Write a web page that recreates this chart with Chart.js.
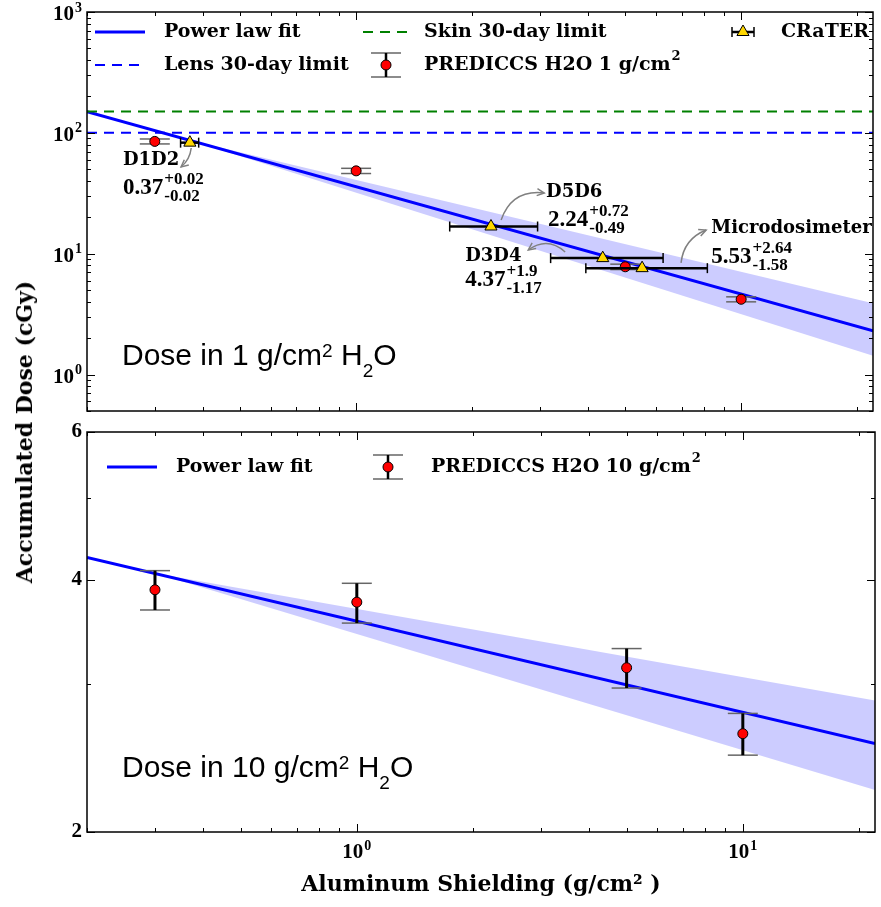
<!DOCTYPE html>
<html><head><meta charset="utf-8">
<script src="https://cdn.jsdelivr.net/npm/chart.js"></script>
<style>
html,body{margin:0;padding:0;background:#fff;}
#wrap{position:relative;width:881px;height:907px;overflow:hidden;background:#fff;}
canvas{position:absolute;left:0;}
#c1{top:0;} #c2{top:420px;}
#ylab{position:absolute;left:24px;top:432px;transform:translate(-50%,-50%) rotate(-90deg);font-family:"DejaVu Serif";font-weight:bold;font-size:22px;white-space:nowrap;color:#000;line-height:1;}
</style></head><body>
<div id="wrap">
<canvas id="c1" width="881" height="420"></canvas>
<canvas id="c2" width="881" height="487"></canvas>
<div id="ylab">Accumulated Dose (cGy)</div>
</div>
<script>
// ---------- data ----------
const prediccsShielding = [0.3, 1, 5, 10];
const prediccs1Dose = [85, 48.5, 7.8, 4.2];
const prediccs1Err = [4, 2.4, 0.4, 0.2];
const prediccs10Dose = [3.89, 3.76, 3.14, 2.62];
const prediccs10ErrLow = [0.21, 0.21, 0.17, 0.15];
const prediccs10ErrHigh = [0.21, 0.20, 0.17, 0.15];

const craterNames = ['D1D2', 'D5D6', 'D3D4', 'Microdosimeter'];
const craterShielding = [0.37, 2.24, 4.37, 5.53];
const craterErrPlus = [0.02, 0.72, 1.9, 2.64];
const craterErrMinus = [0.02, 0.49, 1.17, 1.58];
const craterDose = [83, 16.8, 9.2, 7.6];

const fit1Shielding = [0.2, 22];
const fit1Dose = [150, 2.3];
const band1Shielding = [0.37, 22];
const band1Upper = [87, 3.9];
const band1Lower = [87, 1.43];

const fit10Shielding = [0.2, 22];
const fit10Dose = [4.25, 2.55];
const band10Shielding = [0.3, 22];
const band10Upper = [4.07, 2.87];
const band10Lower = [4.07, 2.245];

const lensLimit = 100;
const skinLimit = 150;

const xRange = [0.2, 22];
const yRange1 = [0.5, 1000];
const yRange10 = [2, 6];
const xTickValues = [1, 10];
const yTickValues1 = [1, 10, 100, 1000];
const yTickValues10 = [2, 4, 6];

// annotation placement (data coordinates) for the CRaTER labels
const craterLabelLayout = [
  {name: [0.248, 59.7], value: [0.248, 35.0], arrow: [[0.373, 75], [0.351, 52.2]], rad: 0.2},
  {name: [3.115, 32.4], value: [3.15, 19.0], arrow: [[2.38, 19.0], [3.08, 31.8]], rad: 0.4},
  {name: [1.92, 9.6], value: [1.92, 6.07], arrow: [[3.49, 10.35], [2.80, 10.75]], rad: -0.4},
  {name: [8.36, 16.3], value: [8.36, 9.41], arrow: [[6.98, 8.39], [8.11, 15.7]], rad: 0.3}
];

// ---------- helpers ----------
const pts = (xs, ys) => xs.map((x, i) => ({x: x, y: ys[i]}));
function line(ctx, x1, y1, x2, y2) { ctx.beginPath(); ctx.moveTo(x1, y1); ctx.lineTo(x2, y2); ctx.stroke(); }
function tri(ctx, x, y, r) {
  ctx.beginPath(); ctx.moveTo(x, y - r); ctx.lineTo(x + r * 0.866, y + r * 0.5); ctx.lineTo(x - r * 0.866, y + r * 0.5); ctx.closePath();
  ctx.fillStyle = '#ffd700'; ctx.fill(); ctx.lineWidth = 1; ctx.strokeStyle = '#000'; ctx.stroke();
}
function dot(ctx, x, y, r) {
  ctx.beginPath(); ctx.arc(x, y, r, 0, Math.PI * 2); ctx.fillStyle = '#ff0000'; ctx.fill();
  ctx.lineWidth = 1; ctx.strokeStyle = '#000'; ctx.stroke();
}
function logTicks(min, max, majors) {
  const out = [];
  for (let d = Math.floor(Math.log10(min)); d <= Math.ceil(Math.log10(max)); d++)
    for (let k = 1; k < 10; k++) {
      const v = +(k * Math.pow(10, d)).toPrecision(6);
      if (v >= min - 1e-9 && v <= max + 1e-9) out.push({v: v, major: majors.includes(v)});
    }
  return out;
}
const SERIF = '"DejaVu Serif", serif';
const NUMF = '"Liberation Serif", "DejaVu Serif", serif';
const BASEF = 'bold 21px ' + NUMF;
const EXPF = 'bold 14px ' + NUMF;

// tick label painter: uses the scale's own tick list and pixel mapping
function tickLabelParts(v, isLog) {
  return isLog ? ['10', String(Math.round(Math.log10(v)))] : [String(v), ''];
}
function drawYLabels(ctx, scale, isLog) {
  ctx.fillStyle = '#000'; ctx.textBaseline = 'middle'; ctx.textAlign = 'left';
  scale.ticks.forEach(t => {
    const p = scale.getPixelForValue(t.value);
    const [b, e] = tickLabelParts(t.value, isLog);
    ctx.font = BASEF; const wb = ctx.measureText(b).width;
    ctx.font = EXPF; const we = e ? ctx.measureText(e).width + 1 : 0;
    const right = scale.right - 5;
    const x0 = right - wb - we;
    ctx.font = BASEF; ctx.fillText(b, x0, p + (e ? 3 : 0));
    if (e) { ctx.font = EXPF; ctx.fillText(e, x0 + wb + 1, p - 4); }
  });
}
function drawXLabels(ctx, scale, isLog) {
  ctx.fillStyle = '#000'; ctx.textBaseline = 'middle'; ctx.textAlign = 'left';
  scale.ticks.forEach(t => {
    const p = scale.getPixelForValue(t.value);
    const [b, e] = tickLabelParts(t.value, isLog);
    ctx.font = BASEF; const wb = ctx.measureText(b).width;
    ctx.font = EXPF; const we = e ? ctx.measureText(e).width + 1 : 0;
    const x0 = p - (wb + we) / 2;
    const yc = scale.top + 21;
    ctx.font = BASEF; ctx.fillText(b, x0, yc);
    if (e) { ctx.font = EXPF; ctx.fillText(e, x0 + wb + 1, yc - 7); }
  });
}

// ---------- plugins ----------
const framePlugin = {
  id: 'frame',
  afterDatasetsDraw(chart, args, opts) {
    const {ctx, chartArea: a, scales: {x, y}} = chart;
    ctx.save(); ctx.strokeStyle = '#000'; ctx.lineWidth = 1;
    logTicks(x.min, x.max, opts.xMajors).forEach(t => {
      const p = Math.round(x.getPixelForValue(t.v)) + 0.5, L = t.major ? 8 : 4;
      line(ctx, p, a.bottom, p, a.bottom - L); line(ctx, p, a.top, p, a.top + L);
    });
    logTicks(y.min, y.max, opts.yMajors).forEach(t => {
      const p = Math.round(y.getPixelForValue(t.v)) + 0.5, L = t.major ? 8 : 4;
      line(ctx, a.left, p, a.left + L, p); line(ctx, a.right, p, a.right - L, p);
    });
    ctx.lineWidth = 1.5; ctx.strokeRect(a.left, a.top, a.right - a.left, a.bottom - a.top);
    drawYLabels(ctx, y, opts.yLog);
    if (opts.xLabels) drawXLabels(ctx, x, true);
    ctx.restore();
  }
};

const errorBarPlugin = {
  id: 'errbars',
  beforeDatasetDraw(chart, args) {
    const ds = chart.data.datasets[args.index];
    const eb = ds.errorBars; if (!eb) return;
    const {ctx, scales: {x, y}} = chart;
    ctx.save(); ctx.lineCap = 'butt';
    ds.data.forEach((p, i) => {
      const px = x.getPixelForValue(p.x), py = y.getPixelForValue(p.y);
      if (eb.yLow) {
        const y1 = y.getPixelForValue(p.y - eb.yLow[i]), y2 = y.getPixelForValue(p.y + eb.yHigh[i]);
        ctx.strokeStyle = eb.capColor; ctx.lineWidth = eb.capWidth;
        line(ctx, px - eb.cap, y1, px + eb.cap, y1); line(ctx, px - eb.cap, y2, px + eb.cap, y2);
        ctx.strokeStyle = eb.color; ctx.lineWidth = eb.width; line(ctx, px, y1, px, y2);
      }
      if (eb.xLow) {
        const x1 = x.getPixelForValue(p.x - eb.xLow[i]), x2 = x.getPixelForValue(p.x + eb.xHigh[i]);
        ctx.strokeStyle = eb.color; ctx.lineWidth = eb.width; line(ctx, x1, py, x2, py);
        ctx.strokeStyle = eb.capColor; ctx.lineWidth = eb.capWidth;
        line(ctx, x1, py - eb.cap, x1, py + eb.cap); line(ctx, x2, py - eb.cap, x2, py + eb.cap);
      }
    });
    ctx.restore();
  }
};

function drawDoseText(ctx, x, baseline, parts) {
  let cx = x;
  ctx.fillStyle = '#000'; ctx.textBaseline = 'alphabetic'; ctx.textAlign = 'left';
  parts.forEach(([t, k]) => {
    const size = k === 'n' ? 30 : 19;
    ctx.font = size + 'px "Liberation Sans", Arial, sans-serif';
    const dy = k === 'sup' ? -8 : (k === 'sub' ? 12 : 0);
    ctx.fillText(t, cx, baseline + dy);
    cx += ctx.measureText(t).width;
  });
}

function legendLine(ctx, x1, x2, y, color, width, dash) {
  ctx.save(); ctx.strokeStyle = color; ctx.lineWidth = width; ctx.setLineDash(dash || []); line(ctx, x1, y, x2, y); ctx.restore();
}
function legendPrediccs(ctx, x, y) {
  ctx.save();
  ctx.strokeStyle = '#666'; ctx.lineWidth = 1.5;
  line(ctx, x - 15, y - 12, x + 15, y - 12); line(ctx, x - 15, y + 12, x + 15, y + 12);
  ctx.strokeStyle = '#000'; ctx.lineWidth = 2.5; line(ctx, x, y - 12, x, y + 12);
  dot(ctx, x, y, 5);
  ctx.restore();
}
function legendText(ctx, t, x, y) {
  ctx.fillStyle = '#000'; ctx.font = 'bold 19px ' + SERIF; ctx.textBaseline = 'middle'; ctx.textAlign = 'left';
  ctx.fillText(t, x, y);
}
function legendTextSq(ctx, t, x, y) {
  legendText(ctx, t, x, y);
  const w = ctx.measureText(t).width;
  ctx.font = 'bold 13px ' + SERIF; ctx.fillText('2', x + w + 1, y - 8);
}

const topDecor = {
  id: 'topDecor',
  afterDraw(chart) {
    const {ctx, chartArea: a, scales: {x, y}} = chart;
    ctx.save();
    // legend
    const r1 = 32, r2 = 65;
    legendLine(ctx, 95, 145, r1, '#0000ff', 3);
    legendText(ctx, 'Power law fit', 164, r1);
    legendLine(ctx, 95, 145, r2, '#0000ff', 2, [10, 7]);
    legendText(ctx, 'Lens 30-day limit', 164, r2);
    legendLine(ctx, 363, 410, r1, '#008000', 2, [10, 7]);
    legendText(ctx, 'Skin 30-day limit', 424, r1);
    legendPrediccs(ctx, 386, r2);
    legendTextSq(ctx, 'PREDICCS H2O 1 g/cm', 424, r2);
    ctx.save(); ctx.strokeStyle = '#000'; ctx.lineWidth = 2.5; line(ctx, 732, r1, 754, r1);
    ctx.lineWidth = 1.5; line(ctx, 732, r1 - 5, 732, r1 + 5); line(ctx, 754, r1 - 5, 754, r1 + 5);
    tri(ctx, 743, r1, 7); ctx.restore();
    legendText(ctx, 'CRaTER', 781, r1);

    // CRaTER annotations
    craterLabelLayout.forEach((L, i) => {
      const nx = x.getPixelForValue(L.name[0]), ny = y.getPixelForValue(L.name[1]);
      ctx.fillStyle = '#000'; ctx.font = 'bold 18px ' + SERIF; ctx.textBaseline = 'middle'; ctx.textAlign = 'left';
      ctx.fillText(craterNames[i], nx, ny);
      const vx = x.getPixelForValue(L.value[0]), vy = y.getPixelForValue(L.value[1]);
      const main = String(craterShielding[i]);
      ctx.font = 'bold 23px ' + NUMF; ctx.fillText(main, vx, vy);
      const w = ctx.measureText(main).width;
      ctx.font = 'bold 17px ' + NUMF;
      ctx.fillText('+' + craterErrPlus[i], vx + w + 1, vy - 8);
      ctx.fillText('-' + craterErrMinus[i], vx + w + 1, vy + 9);
      // arrow
      const x1 = x.getPixelForValue(L.arrow[0][0]), y1 = y.getPixelForValue(L.arrow[0][1]);
      const x2 = x.getPixelForValue(L.arrow[1][0]), y2 = y.getPixelForValue(L.arrow[1][1]);
      const dx = x2 - x1, dy = y2 - y1;
      const cx = (x1 + x2) / 2 + L.rad * dy, cy = (y1 + y2) / 2 - L.rad * dx;
      ctx.strokeStyle = '#808080'; ctx.lineWidth = 1.5;
      ctx.beginPath(); ctx.moveTo(x1, y1); ctx.quadraticCurveTo(cx, cy, x2, y2); ctx.stroke();
      const ang = Math.atan2(y2 - cy, x2 - cx), hl = 8, ha = 0.45;
      ctx.beginPath();
      ctx.moveTo(x2 - hl * Math.cos(ang - ha), y2 - hl * Math.sin(ang - ha));
      ctx.lineTo(x2, y2);
      ctx.lineTo(x2 - hl * Math.cos(ang + ha), y2 - hl * Math.sin(ang + ha));
      ctx.stroke();
    });
    drawDoseText(ctx, a.left + 35, 365, [['Dose in 1 g/cm', 'n'], ['2', 'sup'], [' H', 'n'], ['2', 'sub'], ['O', 'n']]);
    ctx.restore();
  }
};

const bottomDecor = {
  id: 'bottomDecor',
  afterDraw(chart) {
    const {ctx, chartArea: a} = chart;
    ctx.save();
    const r = 47;
    legendLine(ctx, 107, 157, r, '#0000ff', 3);
    legendText(ctx, 'Power law fit', 176, r);
    legendPrediccs(ctx, 388, r);
    legendTextSq(ctx, 'PREDICCS H2O 10 g/cm', 431, r);
    drawDoseText(ctx, a.left + 35, 357, [['Dose in 10 g/cm', 'n'], ['2', 'sup'], [' H', 'n'], ['2', 'sub'], ['O', 'n']]);
    ctx.restore();
  }
};

// ---------- common scale options ----------
function xScale(showAxis) {
  return {
    type: 'logarithmic', min: xRange[0], max: xRange[1], display: showAxis,
    grid: {display: false, drawTicks: false}, border: {display: false},
    afterBuildTicks: s => { s.ticks = xTickValues.map(v => ({value: v})); },
    afterFit: s => { if (showAxis) s.height = 75; },
    ticks: {display: false},
    title: {display: showAxis, text: 'Aluminum Shielding (g/cm² )', color: '#000', font: {family: SERIF, weight: 'bold', size: 22, lineHeight: 1.2}, padding: {top: 0, bottom: 9}}
  };
}
function yScale(range, ticks) {
  return {
    type: 'logarithmic', min: range[0], max: range[1],
    grid: {display: false, drawTicks: false}, border: {display: false},
    afterBuildTicks: s => { s.ticks = ticks.map(v => ({value: v})); },
    afterFit: s => { s.width = 87; },
    ticks: {display: false}
  };
}
const lineDs = (data, color, width, dash, order) => ({data: data, showLine: true, pointRadius: 0, borderColor: color, borderWidth: width, borderDash: dash || [], fill: false, order: order});

// ---------- top chart ----------
new Chart(document.getElementById('c1'), {
  type: 'line',
  data: {datasets: [
    {label: 'band upper', data: pts(band1Shielding, band1Upper), showLine: true, pointRadius: 0, borderColor: 'rgba(0,0,0,0)', backgroundColor: 'rgba(0,0,255,0.2)', fill: '+1', order: 10},
    {label: 'band lower', data: pts(band1Shielding, band1Lower), showLine: true, pointRadius: 0, borderColor: 'rgba(0,0,0,0)', fill: false, order: 11},
    Object.assign({label: 'Power law fit'}, lineDs(pts(fit1Shielding, fit1Dose), '#0000ff', 3, null, 5)),
    Object.assign({label: 'Skin 30-day limit'}, lineDs(pts(xRange, [skinLimit, skinLimit]), '#008000', 2, [10, 7], 4)),
    Object.assign({label: 'Lens 30-day limit'}, lineDs(pts(xRange, [lensLimit, lensLimit]), '#0000ff', 2, [10, 7], 4)),
    {label: 'PREDICCS H2O 1 g/cm2', data: pts(prediccsShielding, prediccs1Dose), showLine: false, pointStyle: 'circle', pointRadius: 5,
      pointBackgroundColor: '#ff0000', pointBorderColor: '#000', pointBorderWidth: 1, order: 2,
      errorBars: {yLow: prediccs1Err, yHigh: prediccs1Err, cap: 15, capColor: '#666', capWidth: 1.5, color: '#000', width: 2}},
    {label: 'CRaTER', data: pts(craterShielding, craterDose), showLine: false, pointStyle: 'triangle', pointRadius: 7,
      pointBackgroundColor: '#ffd700', pointBorderColor: '#000', pointBorderWidth: 1, order: 1,
      errorBars: {xLow: craterErrMinus, xHigh: craterErrPlus, cap: 5, capColor: '#000', capWidth: 1.5, color: '#000', width: 2.5}}
  ]},
  options: {
    responsive: false, animation: false, maintainAspectRatio: false,
    layout: {padding: {top: 12, right: 4, left: 0, bottom: 9}},
    plugins: {legend: {display: false}, tooltip: {enabled: false}, frame: {xMajors: xTickValues, yMajors: yTickValues1, yLog: true, xLabels: false}},
    scales: {x: xScale(false), y: yScale(yRange1, yTickValues1)}
  },
  plugins: [framePlugin, errorBarPlugin, topDecor]
});

// ---------- bottom chart ----------
new Chart(document.getElementById('c2'), {
  type: 'line',
  data: {datasets: [
    {label: 'band upper', data: pts(band10Shielding, band10Upper), showLine: true, pointRadius: 0, borderColor: 'rgba(0,0,0,0)', backgroundColor: 'rgba(0,0,255,0.2)', fill: '+1', order: 10},
    {label: 'band lower', data: pts(band10Shielding, band10Lower), showLine: true, pointRadius: 0, borderColor: 'rgba(0,0,0,0)', fill: false, order: 11},
    Object.assign({label: 'Power law fit'}, lineDs(pts(fit10Shielding, fit10Dose), '#0000ff', 3, null, 5)),
    {label: 'PREDICCS H2O 10 g/cm2', data: pts(prediccsShielding, prediccs10Dose), showLine: false, pointStyle: 'circle', pointRadius: 5,
      pointBackgroundColor: '#ff0000', pointBorderColor: '#000', pointBorderWidth: 1, order: 2,
      errorBars: {yLow: prediccs10ErrLow, yHigh: prediccs10ErrHigh, cap: 15, capColor: '#666', capWidth: 1.5, color: '#000', width: 3}}
  ]},
  options: {
    responsive: false, animation: false, maintainAspectRatio: false,
    layout: {padding: {top: 12, right: 4, left: 0, bottom: 0}},
    plugins: {legend: {display: false}, tooltip: {enabled: false}, frame: {xMajors: xTickValues, yMajors: yTickValues10, yLog: false, xLabels: true}},
    scales: {x: xScale(true), y: yScale(yRange10, yTickValues10)}
  },
  plugins: [framePlugin, errorBarPlugin, bottomDecor]
});
</script>
</body></html>
